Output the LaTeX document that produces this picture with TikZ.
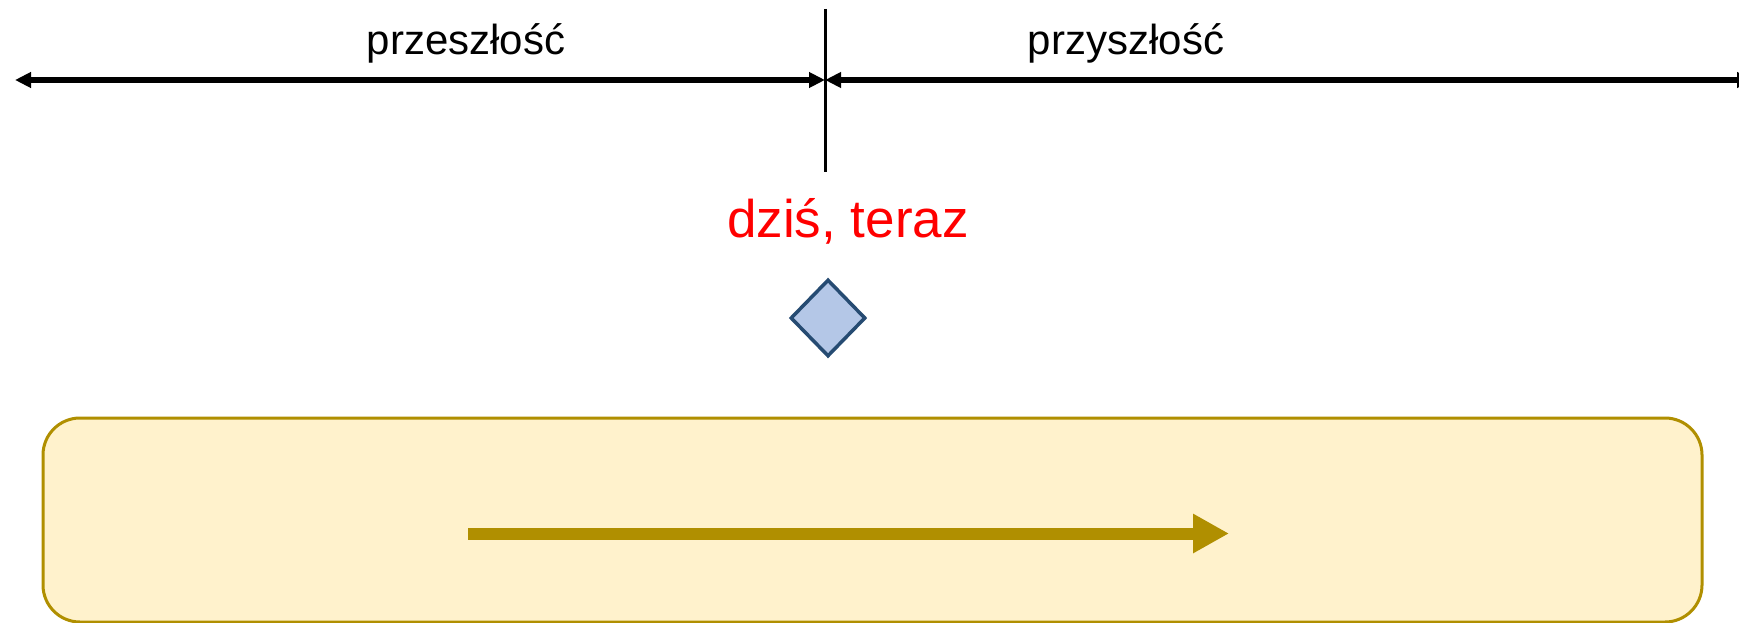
\documentclass[tikz,border=0pt]{standalone}
\usepackage{fontspec}
\setmainfont{Liberation Sans}
\usetikzlibrary{arrows.meta,shapes.geometric}
\definecolor{nowred}{HTML}{FF0000}
\definecolor{markfill}{HTML}{B4C7E7}
\definecolor{markdraw}{HTML}{264B72}
\definecolor{bandfill}{HTML}{FFF2CC}
\definecolor{banddraw}{HTML}{B08F00}
\tikzset{
  timeline/.style={line width=5.5pt,{Triangle[length=16pt,width=15pt]}-{Triangle[length=16pt,width=15pt]}},
  flow/.style={draw=banddraw,line width=12pt,-{Triangle[length=36pt,width=37pt]}}
}
\begin{document}
\begin{tikzpicture}[x=1pt,y=-1pt]
  \useasboundingbox (0,0) rectangle (1739,623);
  \coordinate (past) at (15,80);
  \coordinate (now) at (825,80);
  \coordinate (future) at (1753,80);
  \coordinate (nowtop) at (825,9);
  \coordinate (nowbot) at (825,172);
  \begin{scope}[every node/.style={anchor=base,font=\fontsize{42}{50}\selectfont}]
    \node (pastlabel) at (466,55) {przeszłość};
    \node (futurelabel) at (1126,55) {przyszłość};
    \node[text=nowred,font=\fontsize{53}{63}\selectfont] (nowlabel) at (848,237) {dziś, teraz};
  \end{scope}
  \draw[timeline] (past) -- (now);
  \draw[timeline] (now) -- (future);
  \draw[line width=3pt] (nowtop) -- (nowbot);
  \node[diamond,aspect=1,draw=markdraw,fill=markfill,line width=3.5pt,
        minimum width=75pt,minimum height=77pt,inner sep=0pt] (mark) at (828,318) {};
  \node[draw=banddraw,fill=bandfill,line width=3pt,rounded corners=37pt,
        minimum width=1659pt,minimum height=204pt,inner sep=0pt] (band) at (872.5,520) {};
  \coordinate (flowstart) at (468,533.5);
  \coordinate (flowend) at (1229,533.5);
  \draw[flow] (flowstart) -- (flowend);
\end{tikzpicture}
\end{document}
